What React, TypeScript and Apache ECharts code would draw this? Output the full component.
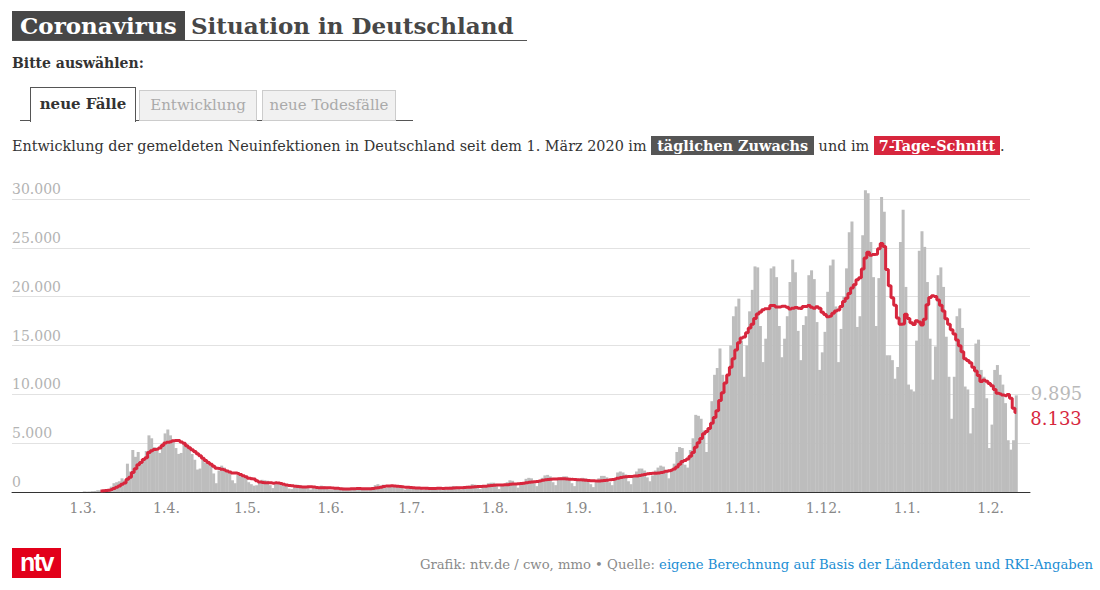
import React, { useEffect, useRef } from "react";
import * as echarts from "echarts";

// ---- data (daily new infections reported by the states, from 1 March 2020) ----
const march2020 = [60, 40, 50, 90, 110, 180, 160, 200, 240, 320, 550, 900, 1000, 1100, 1400, 1200, 2900, 2100, 4300, 3600, 4100, 3000, 3300, 4200, 5800, 5500, 4600, 4200, 4000, 5000, 6000];
const april2020 = [6400, 5800, 5300, 4500, 3900, 4000, 5000, 4600, 4400, 3900, 3300, 2300, 2400, 3300, 3000, 2900, 2700, 1900, 900, 2200, 2700, 2500, 2200, 2000, 1200, 900, 1800, 1900, 1600, 1500];
const may2020 = [1000, 800, 650, 700, 950, 1250, 1200, 1150, 700, 400, 900, 800, 900, 650, 600, 350, 300, 450, 750, 700, 500, 600, 450, 250, 400, 380, 400, 650, 600, 300, 250];
const june2020 = [200, 320, 300, 380, 450, 300, 200, 300, 320, 480, 450, 300, 250, 200, 380, 500, 700, 800, 650, 750, 450, 500, 580, 600, 650, 500, 400, 250, 350, 450];
const july2020 = [450, 480, 420, 300, 200, 330, 400, 450, 480, 450, 300, 180, 350, 420, 550, 620, 550, 350, 250, 450, 580, 650, 800, 750, 400, 300, 600, 700, 900, 950, 950];
const august2020 = [600, 300, 650, 800, 1000, 1200, 1150, 700, 450, 800, 1000, 1350, 1450, 1400, 900, 600, 1200, 1450, 1700, 1750, 1600, 1000, 700, 1300, 1500, 1600, 1600, 1450, 900, 600, 1200];
const september2020 = [1350, 1450, 1400, 1300, 800, 500, 1000, 1400, 1650, 1650, 1500, 1000, 700, 1400, 2000, 2100, 2000, 1800, 1100, 800, 1600, 2100, 2400, 2400, 2200, 1500, 1100, 1700, 2200, 2500];
const october2020 = [2700, 2600, 2100, 1400, 2200, 2900, 4100, 4600, 4500, 2800, 2500, 4300, 5500, 7900, 7800, 7500, 6300, 4100, 6400, 9300, 12000, 12700, 14700, 12000, 11100, 12000, 15000, 18000, 19000, 19800, 15500];
const november2020 = [11800, 15000, 18500, 20700, 23100, 23000, 17000, 13300, 15700, 18600, 22900, 23100, 22000, 17000, 13800, 15700, 18000, 21500, 23800, 22500, 16500, 13500, 17100, 18000, 22200, 22700, 21800, 17400, 12500, 14300];
const december2020 = [16400, 20500, 23200, 23800, 19000, 13300, 16700, 20000, 22900, 26600, 27700, 21400, 16900, 18000, 26300, 30900, 30600, 25600, 22000, 17000, 21900, 30200, 28700, 14000, 14000, 13500, 11600, 12800, 25600, 28900, 21000];
const january2021 = [11000, 10500, 10300, 15500, 24700, 26700, 25100, 21500, 15700, 11500, 14900, 22200, 23000, 21000, 15900, 11800, 7500, 11800, 18000, 18800, 16800, 10800, 10500, 6000, 8600, 15200, 15600, 12500, 11800, 9600, 4500];
const february2021 = [6900, 12500, 13000, 12000, 11000, 9100, 5300, 4336, 5300, 9895];

// x-axis ticks: day index (0 = 1 March 2020) of each month start, with its label
const monthTickDays = [0, 31, 61, 92, 122, 153, 184, 214, 245, 275, 306, 337];
const monthTickLabels = ["1.3.", "1.4.", "1.5.", "1.6.", "1.7.", "1.8.", "1.9.", "1.10.", "1.11.", "1.12.", "1.1.", "1.2."];

const daily = [
  ...march2020, ...april2020, ...may2020, ...june2020, ...july2020, ...august2020,
  ...september2020, ...october2020, ...november2020, ...december2020, ...january2021, ...february2021,
];

// 7-day average (trailing window)
const avg7 = daily.map((_, i) =>
  i < 6 ? null : daily.slice(i - 6, i + 1).reduce((a, b) => a + b, 0) / 7
);

const fmt = (v: number) => String(Math.round(v)).replace(/\B(?=(\d{3})+(?!\d))/g, ".");

const SERIF = "'DejaVu Serif', serif";
const RED = "#d7263d";

function Chart() {
  const ref = useRef<HTMLDivElement | null>(null);
  useEffect(() => {
    if (!ref.current) return;
    const chart = echarts.init(ref.current, undefined, { renderer: "svg" });
    const last = daily.length - 1;
    const barData = daily.map((v, i) =>
      i === last
        ? {
            value: [i + 0.5, v],
            label: {
              show: true,
              position: [16, -2],
              verticalAlign: "middle",
              align: "left",
              formatter: () => fmt(v),
              color: "#b9b9b9",
              fontSize: 18,
              fontFamily: SERIF,
            },
          }
        : { value: [i + 0.5, v] }
    );
    const lineData = avg7.map((v, i) => [i + 0.5, v]).filter((p) => p[1] !== null);
    chart.setOption({
      animation: false,
      grid: { left: 12, right: 70, top: 179.5, bottom: 98, containLabel: false },
      xAxis: {
        type: "value",
        min: -26.35,
        max: 351.6,
        axisLine: { show: true, lineStyle: { color: "#333", width: 1 } },
        axisTick: { show: false },
        splitLine: { show: false },
        axisLabel: {
          customValues: monthTickDays,
          formatter: (v: number) => {
            const k = monthTickDays.indexOf(Math.round(v));
            return k >= 0 ? monthTickLabels[k] : "";
          },
          color: "#888",
          fontSize: 14,
          fontFamily: SERIF,
          margin: 9,
        },
      },
      yAxis: {
        type: "value",
        min: 0,
        max: 32000,
        interval: 5000,
        axisLine: { show: false },
        axisTick: { show: false },
        splitLine: { show: true, showMaxLine: false, lineStyle: { color: "#e2e2e2", width: 1 } },
        axisLabel: {
          inside: true,
          showMaxLabel: false,
          margin: 0,
          verticalAlign: "bottom",
          padding: [0, 0, 3, 0],
          color: "#b3b3b3",
          fontSize: 14,
          fontFamily: SERIF,
          formatter: (v: number) => fmt(v),
        },
      },
      series: [
        {
          type: "bar",
          data: barData,
          barWidth: 3,
          itemStyle: { color: "#bdbdbd" },
          silent: true,
          z: 1,
        },
        {
          type: "line",
          data: lineData,
          step: "middle",
          symbol: "none",
          showSymbol: false,
          lineStyle: { color: RED, width: 3 },
          silent: true,
          z: 2,
          endLabel: {
            show: true,
            distance: 14,
            offset: [0, 6],
            formatter: () => fmt(avg7[last] as number),
            color: RED,
            fontSize: 18,
            fontFamily: SERIF,
          },
        },
      ],
    });
    return () => chart.dispose();
  }, []);
  return <div ref={ref} style={{ position: "absolute", left: 0, top: 0, width: 1100, height: 590 }} />;
}

export default function App() {
  const abs = (o: React.CSSProperties): React.CSSProperties => ({ position: "absolute", ...o });
  return (
    <div style={abs({ left: 0, top: 0, width: 1100, height: 590, background: "#fff", overflow: "hidden", fontFamily: SERIF })}>
      <Chart />
      {/* title */}
      <div style={abs({ left: 12, top: 11, height: 30, lineHeight: "30px", padding: "0 8px", background: "#474747", color: "#fff", fontWeight: "bold", fontSize: 23, whiteSpace: "nowrap" })}>Coronavirus</div>
      <div style={abs({ left: 191, top: 11, height: 30, lineHeight: "30px", color: "#474747", fontWeight: "bold", fontSize: 23, whiteSpace: "nowrap" })}>Situation in Deutschland</div>
      <div style={abs({ left: 12, top: 40, width: 515, height: 1, background: "#555" })} />
      <div style={abs({ left: 12, top: 56, lineHeight: "14px", fontSize: 14, fontWeight: "bold", color: "#333", whiteSpace: "nowrap" })}>Bitte auswählen:</div>
      {/* tabs */}
      <div style={abs({ left: 20, top: 120, width: 393, height: 1, background: "#555" })} />
      <div style={abs({ left: 30, top: 87, width: 104, height: 34, boxSizing: "content-box", border: "1px solid #555", borderBottom: "none", background: "#fff", textAlign: "center", lineHeight: "33px", fontSize: 15, fontWeight: "bold", color: "#333", whiteSpace: "nowrap" })}>neue Fälle</div>
      <div style={abs({ left: 139, top: 90, width: 116, height: 29, border: "1px solid #ccc", background: "#f1f1f1", textAlign: "center", lineHeight: "29px", fontSize: 15, color: "#aaa", whiteSpace: "nowrap" })}>Entwicklung</div>
      <div style={abs({ left: 262, top: 90, width: 132, height: 29, border: "1px solid #ccc", background: "#f1f1f1", textAlign: "center", lineHeight: "29px", fontSize: 15, color: "#aaa", whiteSpace: "nowrap" })}>neue Todesfälle</div>
      {/* subtitle */}
      <div style={abs({ left: 12, top: 136, lineHeight: "20px", fontSize: 14.4, color: "#333", whiteSpace: "nowrap" })}>
        Entwicklung der gemeldeten Neuinfektionen in Deutschland seit dem 1. März 2020 im{" "}
        <span style={{ background: "#555", color: "#fff", fontWeight: "bold", padding: "1px 6px" }}>täglichen Zuwachs</span>{" "}
        und im{" "}
        <span style={{ background: RED, color: "#fff", fontWeight: "bold", padding: "1px 5px" }}>7-Tage-Schnitt</span>.
      </div>
      {/* footer */}
      <div style={abs({ left: 12, top: 548, width: 49, height: 30, background: "#e2001a", color: "#fff", fontFamily: "'Liberation Sans', sans-serif", fontWeight: "bold", fontSize: 25, letterSpacing: -1.5, lineHeight: "28px", textAlign: "center" })}>ntv</div>
      <div style={abs({ right: 7, top: 556, lineHeight: "18px", fontSize: 13.2, color: "#8a8a8a", whiteSpace: "nowrap" })}>
        Grafik: ntv.de / cwo, mmo • Quelle: <span style={{ color: "#1b8ed3" }}>eigene Berechnung auf Basis der Länderdaten und RKI-Angaben</span>
      </div>
    </div>
  );
}
